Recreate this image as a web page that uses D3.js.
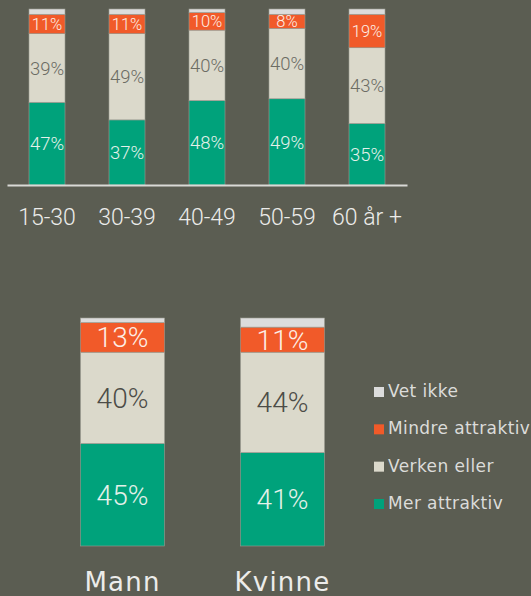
<!DOCTYPE html>
<html>
<head>
<meta charset="utf-8">
<script src="https://cdn.jsdelivr.net/npm/d3@7"></script>
<style>
  body { margin: 0; background: #5b5d52; }
  svg { display: block; }
</style>
</head>
<body>
<svg id="chart" width="531" height="596"></svg>
<script>
const ageGroups = ["15-30", "30-39", "40-49", "50-59", "60 år +"];
const merAge = [47, 37, 48, 49, 35];
const verkenAge = [39, 49, 40, 40, 43];
const mindreAge = [11, 11, 10, 8, 19];
const vetIkkeAge = [3, 3, 2, 3, 3];

const genders = ["Mann", "Kvinne"];
const merGender = [45, 41];
const verkenGender = [40, 44];
const mindreGender = [13, 11];
const vetIkkeGender = [2, 4];

const keys = ["mer", "verken", "mindre", "vetIkke"];
const legendLabels = ["Vet ikke", "Mindre attraktiv", "Verken eller", "Mer attraktiv"];
const legendKeys = ["vetIkke", "mindre", "verken", "mer"];

const colors = { mer: "#00a27b", verken: "#dbd9cb", mindre: "#f15a29", vetIkke: "#dcdcdc" };
const labelFont = "Roboto, 'Open Sans', sans-serif";
const nameFont = "'DejaVu Sans', 'Liberation Sans', sans-serif";

const svg = d3.select("#chart");

const makeRows = (cats, mer, verken, mindre, vetIkke) =>
  cats.map((c, i) => ({ cat: c, mer: mer[i], verken: verken[i], mindre: mindre[i], vetIkke: vetIkke[i] }));

const drawStack = (rows, x, y, textStyle) => {
  const series = d3.stack().keys(keys)(rows);
  const g = svg.append("g");
  series.forEach(s => {
    g.selectAll(null)
      .data(s)
      .join("rect")
      .attr("x", d => x(d.data.cat))
      .attr("width", x.bandwidth())
      .attr("y", d => y(d[1]))
      .attr("height", d => y(d[0]) - y(d[1]))
      .attr("fill", colors[s.key])
      .attr("stroke", "#9c9c92")
      .attr("stroke-width", 0.6);
  });
  series.filter(s => s.key !== "vetIkke").forEach(s => {
    const st = textStyle[s.key];
    g.selectAll(null)
      .data(s)
      .join("text")
      .attr("x", d => x(d.data.cat) + x.bandwidth() / 2)
      .attr("y", d => (y(d[0]) + y(d[1])) / 2)
      .attr("dy", "0.36em")
      .attr("text-anchor", "middle")
      .attr("font-family", labelFont)
      .attr("font-weight", 300)
      .attr("font-size", st.size)
      .attr("fill", st.color)
      .text(d => `${d.data[s.key]}%`);
  });
};

// top chart: age groups
const xAge = d3.scaleBand().domain(ageGroups).range([7, 407]).paddingInner(0.55).paddingOuter(0.275);
const yAge = d3.scaleLinear().domain([0, 100]).range([185, 9]);

drawStack(makeRows(ageGroups, merAge, verkenAge, mindreAge, vetIkkeAge), xAge, yAge, {
  mer: { size: 18.5, color: "#e4f1ea" },
  verken: { size: 18.5, color: "#6c6c64" },
  mindre: { size: 16.5, color: "#fdeee6" }
});

const xAxisAge = svg.append("g")
  .attr("transform", `translate(0,${yAge(0)})`)
  .call(d3.axisBottom(xAge).tickSize(0).tickPadding(24));
xAxisAge.select(".domain").attr("stroke", "#d9d9d6").attr("stroke-width", 2);
xAxisAge.selectAll("text")
  .attr("font-family", labelFont)
  .attr("font-weight", 300)
  .attr("font-size", 23)
  .attr("fill", "#ececea");

// bottom chart: gender
const xGender = d3.scaleBand().domain(genders).range([42.5, 362.5]).paddingInner(0.475).paddingOuter(0.2375);
const yGender = d3.scaleLinear().domain([0, 100]).range([546, 318]);

drawStack(makeRows(genders, merGender, verkenGender, mindreGender, vetIkkeGender), xGender, yGender, {
  mer: { size: 28, color: "#e4f1ea" },
  verken: { size: 28, color: "#4c4c47" },
  mindre: { size: 28, color: "#fdeee6" }
});

const xAxisGender = svg.append("g")
  .attr("transform", `translate(0,${yGender(0)})`)
  .call(d3.axisBottom(xGender).tickSize(0).tickPadding(27));
xAxisGender.select(".domain").remove();
xAxisGender.selectAll("text")
  .attr("font-family", nameFont)
  .attr("font-size", 26)
  .attr("letter-spacing", 1.2)
  .attr("fill", "#ececea");

// legend
const legend = svg.append("g")
  .attr("font-family", nameFont)
  .attr("font-size", 17)
  .attr("letter-spacing", 0.4)
  .attr("fill", "#dcdcda");
const legendY = d3.scalePoint().domain(legendLabels).range([397, 509]);
legendLabels.forEach((label, i) => {
  legend.append("rect")
    .attr("x", 374)
    .attr("y", legendY(label) - 10)
    .attr("width", 10)
    .attr("height", 10)
    .attr("fill", colors[legendKeys[i]]);
  legend.append("text")
    .attr("x", 388)
    .attr("y", legendY(label))
    .text(label);
});
</script>
</body>
</html>
